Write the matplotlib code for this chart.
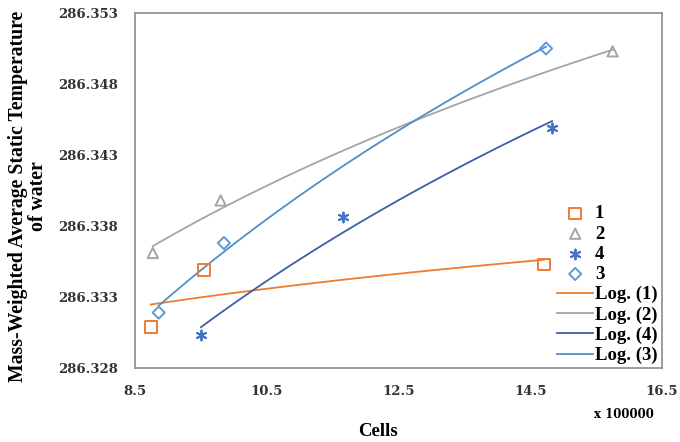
import numpy as np
import matplotlib
matplotlib.use("Agg")
import matplotlib.pyplot as plt
from matplotlib.ticker import FuncFormatter, FixedLocator

# Data (cells in units of 100000, temperature in K)
s1_x = [8.74, 9.55, 14.71]
s1_y = [286.3309, 286.3349, 286.3353]
s2_x = [8.77, 9.80, 15.75]
s2_y = [286.3361, 286.3398, 286.3503]
s4_x = [9.50, 11.66, 14.83]
s4_y = [286.3303, 286.3386, 286.3449]
s3_x = [8.86, 9.85, 14.74]
s3_y = [286.3319, 286.3368, 286.3505]

x_ticks = [8.5, 10.5, 12.5, 14.5, 16.5]
y_ticks = [286.328, 286.333, 286.338, 286.343, 286.348, 286.353]

c1 = '#ED7D31'
c2 = '#A5A5A5'
c4 = '#4472C4'
c4line = '#3B5FA8'
c3 = '#5B9BD5'
c3line = '#4F8FC8'

fig = plt.figure(figsize=(6.8, 4.42), dpi=100)
ax = fig.add_axes([135/680, 1-368/442, (662-135)/680, (368-13)/442])

serif = 'Liberation Serif'

ax.scatter(s1_x, s1_y, marker='s', s=70, facecolors='none', edgecolors=c1, linewidths=1.4, label='1', zorder=3)
ax.scatter(s2_x, s2_y, marker='^', s=55, facecolors='none', edgecolors=c2, linewidths=1.4, label='2', zorder=3)
ax.scatter(s4_x, s4_y, marker=(6, 2, 0), s=50, color=c4, linewidths=1.4, label='4', zorder=3)
ax.scatter(s3_x, s3_y, marker='D', s=38, facecolors='none', edgecolors=c3, linewidths=1.4, label='3', zorder=3)

def logfit(x, y, color, label):
    x = np.asarray(x); y = np.asarray(y)
    a, b = np.polyfit(np.log(x), y - 286.0, 1)
    xs = np.linspace(x.min(), x.max(), 100)
    ax.plot(xs, a*np.log(xs) + b + 286.0, color=color, lw=1.3, label=label, zorder=2)

logfit(s1_x, s1_y, c1, 'Log. (1)')
logfit(s2_x, s2_y, c2, 'Log. (2)')
logfit(s4_x, s4_y, c4line, 'Log. (4)')
logfit(s3_x, s3_y, c3line, 'Log. (3)')

ax.set_xlim(8.5, 16.5)
ax.set_ylim(286.328, 286.353)
ax.xaxis.set_major_locator(FixedLocator(x_ticks))
ax.yaxis.set_major_locator(FixedLocator(y_ticks))
ax.xaxis.set_major_formatter(FuncFormatter(lambda v, p: f'{v:.1f}'))
ax.yaxis.set_major_formatter(FuncFormatter(lambda v, p: f'{v:.3f}'))
ax.tick_params(length=0, pad=12)
for lab in ax.get_xticklabels() + ax.get_yticklabels():
    lab.set_fontfamily('DejaVu Serif')
    lab.set_fontweight('bold')
    lab.set_fontsize(9.5)
    lab.set_color('#333333')
for sp in ax.spines.values():
    sp.set_color('#8C8C8C')
    sp.set_linewidth(1.2)

leg = ax.legend(loc='upper left', bbox_to_anchor=(548/680, 1-196/442), bbox_transform=fig.transFigure,
                frameon=False, prop={'family': serif, 'weight': 'bold', 'size': 13.5},
                handlelength=1.9, handletextpad=0.1, labelspacing=0.16, borderpad=0)

fig.text(28/680, 1-196/442, 'Mass-Weighted Average Static Temperature\nof water', rotation=90,
         ha='center', va='center', family=serif, weight='bold', fontsize=14.2, linespacing=1.0)
fig.text(378/680, 1-432/442, 'Cells', ha='center', va='center', family=serif, weight='bold', fontsize=13.5)
fig.text(624/680, 1-414/442, 'x 100000', ha='center', va='center', family='DejaVu Serif', weight='bold', fontsize=8.5)

fig.savefig('out.png', dpi=100)
